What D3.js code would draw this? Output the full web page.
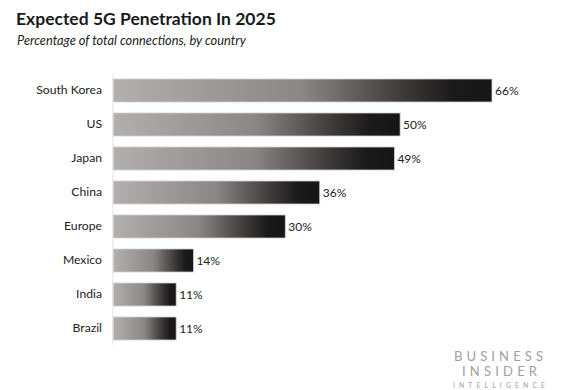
<!DOCTYPE html>
<html>
<head>
<meta charset="utf-8">
<script src="https://cdn.jsdelivr.net/npm/d3@7"></script>
<style>
  body { margin: 0; background: #fff; }
  text { font-family: Lato, "Open Sans", sans-serif; }
</style>
</head>
<body>
<svg id="chart" width="566" height="390"></svg>
<script>
// values
const countries = ['South Korea', 'US', 'Japan', 'China', 'Europe', 'Mexico', 'India', 'Brazil'];
const penetration = [66, 50, 49, 36, 30, 14, 11, 11];

const svg = d3.select('#chart');
const plotLeft = 113, plotTop = 74, plotBottom = 345;

const x = d3.scaleLinear().domain([0, 66]).range([plotLeft, 492]);
const y = d3.scaleBand().domain(countries).range([79, 340]).paddingInner(11 / 34).paddingOuter(0);

// per-bar grey-to-black gradient
const grad = svg.append('defs').append('linearGradient').attr('id', 'barGrad');
[[0, '#b4afaf'], [0.5, '#8b8686'], [0.78, '#3a3636'], [0.9, '#1b1a1a'], [1, '#161616']].forEach(([o, c]) =>
  grad.append('stop').attr('offset', o).attr('stop-color', c));

svg.append('text').attr('x', 16).attr('y', 25)
  .attr('font-size', 17.5).attr('font-weight', 700).attr('fill', '#1a1a1a')
  .text('Expected 5G Penetration In 2025');
svg.append('text').attr('x', 17).attr('y', 45)
  .attr('font-size', 12.8).attr('font-style', 'italic').attr('fill', '#222')
  .text('Percentage of total connections, by country');

const rows = countries.map((c, i) => ({ c, v: penetration[i] }));

svg.selectAll('rect.bar').data(rows).join('rect')
  .attr('class', 'bar')
  .attr('x', x(0))
  .attr('y', d => y(d.c))
  .attr('width', d => x(d.v) - x(0))
  .attr('height', y.bandwidth())
  .attr('fill', 'url(#barGrad)')
  .attr('stroke', '#cfcfcf')
  .attr('stroke-width', 0.8);

svg.selectAll('text.val').data(rows).join('text')
  .attr('class', 'val')
  .attr('x', d => x(d.v) + 3)
  .attr('y', d => y(d.c) + y.bandwidth() / 2)
  .attr('dy', '0.35em')
  .attr('font-size', 12).attr('fill', '#222')
  .text(d => d.v + '%');

const yAxis = svg.append('g').attr('transform', `translate(${plotLeft},0)`)
  .call(d3.axisLeft(y).tickSize(0).tickPadding(11));
yAxis.select('.domain').remove();
yAxis.selectAll('text').attr('font-size', 12.2).attr('fill', '#222')
  .style('font-family', 'Lato, "Open Sans", sans-serif');

svg.append('line').attr('x1', plotLeft).attr('x2', plotLeft).attr('y1', plotTop).attr('y2', plotBottom)
  .attr('stroke', '#e2e2e2').attr('stroke-width', 1);

// logo
const logo = svg.append('g').attr('fill', '#a0a0a0').attr('font-family', '"Open Sans", sans-serif')
  .attr('lengthAdjust', 'spacing');
logo.append('text').attr('x', 454).attr('y', 360.5).attr('font-size', 13)
  .attr('textLength', 89).attr('lengthAdjust', 'spacing').text('BUSINESS');
logo.append('text').attr('x', 462).attr('y', 375.5).attr('font-size', 13)
  .attr('textLength', 75).attr('lengthAdjust', 'spacing').text('INSIDER');
logo.append('text').attr('x', 453).attr('y', 387.5).attr('font-size', 6.8)
  .attr('textLength', 92).attr('lengthAdjust', 'spacing').text('INTELLIGENCE');
</script>
</body>
</html>
